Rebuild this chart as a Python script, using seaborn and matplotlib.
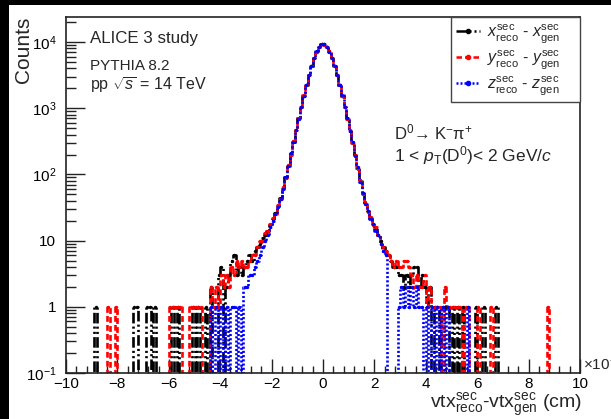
import numpy as np
import pandas as pd
import seaborn as sns
import matplotlib.pyplot as plt
from matplotlib.lines import Line2D
from matplotlib.patches import Rectangle
from matplotlib.ticker import FixedLocator, FixedFormatter, MultipleLocator, LogLocator, NullFormatter

# ---------------- data (x axis in units of 1e-1 cm) ----------------
x_range = (-10.0, 10.0)
bin_width = 0.1
core_low = -3.0          # low edge of the first "core" bin

# counts in the central bins (-3.0 ... 3.0), one value per 0.1 bin
x_core = [5, 6, 5, 7, 8, 9, 11, 12, 14, 17,
          21, 26, 33, 44, 62, 90, 135, 205, 310, 470,
          700, 1050, 1550, 2250, 3200, 4400, 5800, 7200, 8400, 9200,
          9200, 8400, 7200, 5800, 4400, 3200, 2250, 1550, 1050, 700,
          460, 300, 195, 125, 80, 52, 37, 28, 22, 18,
          15, 12, 10, 8, 7, 6, 5, 4, 4, 3]
y_core = [4, 5, 6, 6, 8, 10, 10, 13, 14, 18,
          22, 25, 34, 42, 64, 88, 138, 200, 315, 465,
          710, 1040, 1560, 2240, 3220, 4380, 5820, 7180, 8420, 9250,
          9180, 8400, 7220, 5780, 4420, 3180, 2260, 1540, 1060, 690,
          465, 295, 198, 122, 82, 50, 38, 27, 23, 17,
          16, 12, 9, 8, 7, 6, 5, 4, 5, 4]
z_core = [2, 3, 3, 4, 5, 6, 8, 10, 12, 16,
          20, 25, 32, 43, 60, 92, 133, 208, 305, 475,
          695, 1055, 1545, 2255, 3190, 4410, 5790, 7210, 8390, 9220,
          9210, 8410, 7190, 5810, 4390, 3210, 2240, 1560, 1045, 705,
          455, 305, 192, 128, 78, 53, 36, 28, 21, 18,
          14, 12, 9, 7, 6, 0, 0, 0, 0, 1]

# sparse tail bins: bin centres and counts
x_tail_pos = [-8.85, -7.35, -7.25, -6.85, -6.75, -6.55, -5.85, -5.65, -5.05, -4.85,
              -4.55, -4.35, -4.05, -3.95, -3.75, -3.65, -3.55, -3.45, -3.35, -3.25,
              -3.15, -3.05,
              3.05, 3.15, 3.25, 3.35, 3.45, 3.55, 3.65, 3.75, 3.85, 3.95,
              4.05, 4.15, 4.35, 4.45, 4.65, 4.75, 4.85, 5.05, 5.25, 5.45,
              5.95, 6.25, 6.75]
x_tail_cnt = [1, 1, 1, 1, 1, 1, 1, 1, 1, 1,
              1, 2, 3, 4, 2, 3, 5, 6, 3, 4,
              3, 4,
              3, 2, 3, 2, 3, 4, 4, 2, 3, 2,
              1, 2, 1, 1, 1, 1, 1, 1, 1, 1,
              1, 1, 1]
y_tail_pos = [-8.35, -8.05, -5.95, -5.85, -5.75, -5.65, -5.55, -5.15, -5.05, -4.95,
              -4.85, -4.75, -4.35, -4.25, -4.15, -4.05, -3.95, -3.85, -3.75, -3.65,
              -3.55, -3.45, -3.35, -3.25, -3.15, -3.05,
              3.05, 3.15, 3.25, 3.35, 3.45, 3.55, 3.65, 3.75, 3.85, 3.95,
              4.05, 4.15, 4.25, 4.35, 4.45, 4.55, 4.75, 4.85, 4.95, 5.05,
              5.15, 5.25, 5.35, 5.55, 5.65, 6.05, 6.55, 8.75]
y_tail_cnt = [1, 1, 1, 1, 1, 1, 1, 1, 1, 1,
              1, 1, 2, 1, 2, 1, 3, 2, 3, 2,
              4, 3, 5, 4, 5, 4,
              4, 5, 5, 4, 3, 2, 3, 2, 2, 3,
              1, 2, 1, 1, 1, 1, 2, 1, 1, 1,
              1, 1, 1, 1, 1, 1, 1, 1]
z_tail_pos = [-4.35, -4.15, -3.95, -3.75, -3.55, -3.45, -3.25, -3.05,
              3.05, 3.15, 3.25, 3.35, 3.45, 3.55, 3.65, 3.75, 3.85, 4.05,
              4.25, 4.45, 4.65, 4.85, 5.65]
z_tail_cnt = [1, 1, 1, 1, 1, 1, 1, 2,
              2, 1, 2, 1, 2, 1, 2, 1, 1, 1,
              1, 1, 1, 1, 1]

series_labels = [r"$x^{\rm sec}_{\rm reco}$ - $x^{\rm sec}_{\rm gen}$    ",
                 r"$y^{\rm sec}_{\rm reco}$ - $y^{\rm sec}_{\rm gen}$    ",
                 r"$z^{\rm sec}_{\rm reco}$ - $z^{\rm sec}_{\rm gen}$    "]
series_colors = ["black", "#ff0000", "#0000ff"]
series_dashes = [(4, 1.2, 0.8, 1.2, 0.8, 1.2), (2.2, 1.2), (0.8, 0.8)]

y_ticks = [0.1, 1, 10, 100, 1000, 10000]
y_tick_labels = [r"$10^{-1}$", "1", "10", r"$10^{2}$", r"$10^{3}$", r"$10^{4}$"]
x_ticks = [-10, -8, -6, -4, -2, 0, 2, 4, 6, 8, 10]
x_tick_labels = ["\u221210", "\u22128", "\u22126", "\u22124", "\u22122", "0", "2", "4", "6", "8", "10"]

# ---------------- style ----------------
sns.set_theme(style="ticks")
plt.rcParams["font.family"] = ["Liberation Sans", "DejaVu Sans"]
plt.rcParams["mathtext.fontset"] = "custom"
plt.rcParams["mathtext.rm"] = "Liberation Sans"
plt.rcParams["mathtext.it"] = "Liberation Sans:italic"
plt.rcParams["mathtext.bf"] = "Liberation Sans:bold"

fig = plt.figure(figsize=(6.11, 4.19), dpi=100)
fig.patch.set_facecolor("white")
ax = fig.add_axes([66 / 611, 1 - 373 / 419, 514 / 611, 356 / 419])

edges = [round(v, 4) for v in np.arange(x_range[0], x_range[1] + bin_width / 2, bin_width)]
core_centres = core_low + bin_width * (np.arange(len(x_core)) + 0.5)


def series_frame(core, tail_pos, tail_cnt):
    centres = np.concatenate([core_centres, np.asarray(tail_pos, float)])
    counts = np.concatenate([np.asarray(core, float), np.asarray(tail_cnt, float)])
    return pd.DataFrame({"centre": centres, "count": counts})


frames = [series_frame(x_core, x_tail_pos, x_tail_cnt),
          series_frame(y_core, y_tail_pos, y_tail_cnt),
          series_frame(z_core, z_tail_pos, z_tail_cnt)]

for df, col, dash in zip(frames, series_colors, series_dashes):
    sns.histplot(data=df, x="centre", weights="count", bins=edges,
                 element="step", fill=False, color=col, linewidth=1.9,
                 dashes=dash, ax=ax)
    nz = df[df["count"] > 0]
    sns.scatterplot(data=nz, x="centre", y="count", color=col, s=6,
                    linewidth=0, marker="o", ax=ax, zorder=3)

ax.set_yscale("log")
ax.set_xlim(*x_range)
ax.set_ylim(0.1, 2.39e4)

# ticks, ROOT-like: inward, left and bottom only
ax.xaxis.set_major_locator(FixedLocator(x_ticks))
ax.xaxis.set_major_formatter(FixedFormatter(x_tick_labels))
ax.xaxis.set_minor_locator(MultipleLocator(0.4))
ax.yaxis.set_major_locator(FixedLocator(y_ticks))
ax.yaxis.set_major_formatter(FixedFormatter(y_tick_labels))
ax.yaxis.set_minor_locator(LogLocator(base=10, subs=np.arange(2, 10), numticks=20))
ax.yaxis.set_minor_formatter(NullFormatter())
ax.tick_params(axis="both", which="both", direction="in", top=False, right=False,
               colors="#222222", labelcolor="black")
ax.tick_params(axis="x", which="major", length=10, width=1, labelsize=11, pad=3)
ax.tick_params(axis="x", which="minor", length=5, width=1)
ax.tick_params(axis="y", which="major", length=14, width=1, labelsize=11, pad=7)
ax.tick_params(axis="y", which="minor", length=7, width=1)
for sp in ax.spines.values():
    sp.set_visible(True)
    sp.set_color("#222222")
    sp.set_linewidth(1.2)

ax.set_xlabel(r"vtx$^{\rm sec}_{\rm reco}$-vtx$^{\rm sec}_{\rm gen}$ (cm)", fontsize=14)
ax.xaxis.set_label_coords(1.005, -0.05)
ax.xaxis.label.set_horizontalalignment("right")
ax.xaxis.label.set_verticalalignment("top")
ax.set_ylabel("Counts", fontsize=15)
ax.yaxis.set_label_coords(-0.082, 1.0)
ax.yaxis.label.set_horizontalalignment("right")
ax.yaxis.label.set_verticalalignment("center")

ax.text(1.005, 0.0, r"$\times10^{-1}$", transform=ax.transAxes, ha="left",
        va="bottom", fontsize=11, clip_on=False)

ax.text(0.047, 0.962, "ALICE 3 study", transform=ax.transAxes, fontsize=12.2, va="top")
ax.text(0.047, 0.883, "PYTHIA 8.2", transform=ax.transAxes, fontsize=11, va="top")
ax.text(0.047, 0.838, r"pp $\sqrt{s}$ = 14 TeV", transform=ax.transAxes, fontsize=11.5, va="top")
ax.text(0.638, 0.705, "D$^{0}$\u2192 K$^{-}$\u03c0$^{+}$", transform=ax.transAxes,
        fontsize=12, va="top")
ax.text(0.638, 0.642, r"1 < $p_{\rm T}$(D$^{0}$)< 2 GeV/$c$", transform=ax.transAxes,
        fontsize=12.5, va="top")

handles = [Line2D([], [], color=c, lw=1.8, dashes=d, marker="o", markersize=3)
           for c, d in zip(series_colors, series_dashes)]
leg = ax.legend(handles, series_labels, loc="upper right", bbox_to_anchor=(1.0, 1.0),
                borderaxespad=0, fancybox=False, framealpha=1, edgecolor="#444444",
                fontsize=11.5, handlelength=1.5, handletextpad=0.45, labelspacing=0.2,
                borderpad=0.3)
leg.get_frame().set_linewidth(1.0)

# dark margin along the top and left edges
fig.patches.append(Rectangle((0, 1 - 5 / 419), 1, 5 / 419, transform=fig.transFigure,
                             facecolor="black", edgecolor="none", zorder=10))
fig.patches.append(Rectangle((0, 0), 9 / 611, 1, transform=fig.transFigure,
                             facecolor="black", edgecolor="none", zorder=10))

fig.savefig("out.png", dpi=100, facecolor="white")
